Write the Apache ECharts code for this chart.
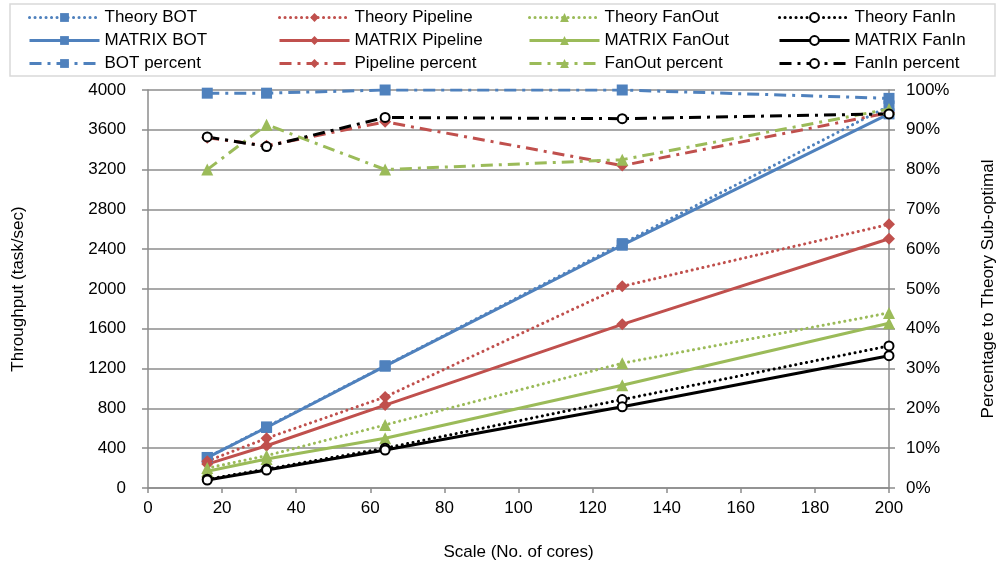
<!DOCTYPE html>
<html>
<head>
<meta charset="utf-8">
<script src="https://cdn.jsdelivr.net/npm/echarts@6/dist/echarts.min.js"></script>
<style>html,body{margin:0;padding:0;background:#fff}#c{width:1005px;height:566px}</style>
</head>
<body>
<div id="c"></div>
<script>
var cores = [16, 32, 64, 128, 200];
var xTicks = [0, 20, 40, 60, 80, 100, 120, 140, 160, 180, 200];
var theoryBOT = [307, 614, 1228, 2456, 3840];
var matrixBOT = [305, 608, 1225, 2440, 3760];
var theoryPipeline = [270, 500, 915, 2027, 2650];
var matrixPipeline = [240, 425, 833, 1645, 2505];
var theoryFanOut = [200, 325, 634, 1254, 1760];
var matrixFanOut = [168, 292, 500, 1032, 1655];
var theoryFanIn = [88, 190, 400, 889, 1428];
var matrixFanIn = [80, 180, 382, 816, 1330];
var botPercent = [99.2, 99.2, 100, 100, 97.9];
var pipelinePercent = [88, 86, 92, 81, 94.3];
var fanOutPercent = [80, 91.3, 80, 82.5, 95.2];
var fanInPercent = [88.2, 85.8, 93.1, 92.8, 94];

var FONT = 'Liberation Sans, Arial, sans-serif';
var BLUE = '#4F81BD', RED = '#C0504D', GREEN = '#9BBB59', BLACK = '#000000';
var DOT = [0.1, 5.4];
var DASHDOT = [12, 6, 3, 6];

function pts(vals) { return cores.map(function (c, i) { return [c, vals[i]]; }); }

function mk(name, vals, color, symbol, size, dash, yIdx, z) {
  var emptyC = symbol === 'emptyCircle';
  return {
    name: name, type: 'line', yAxisIndex: yIdx, data: pts(vals),
    symbol: symbol, symbolSize: size, z: z,
    lineStyle: { color: color, width: 3, type: dash, cap: dash === DOT ? 'round' : 'butt' },
    itemStyle: emptyC ? { color: color, borderWidth: 2 } : { color: color },
    emphasis: { disabled: true },
    animation: false
  };
}

var series = [
  mk('Theory BOT', theoryBOT, BLUE, 'rect', 11, DOT, 0, 2),
  mk('MATRIX BOT', matrixBOT, BLUE, 'rect', 11, 'solid', 0, 2),
  mk('BOT percent', botPercent, BLUE, 'rect', 11, DASHDOT, 1, 3),
  mk('Theory Pipeline', theoryPipeline, RED, 'diamond', 12, DOT, 0, 2),
  mk('MATRIX Pipeline', matrixPipeline, RED, 'diamond', 12, 'solid', 0, 2),
  mk('Pipeline percent', pipelinePercent, RED, 'diamond', 12, DASHDOT, 1, 3),
  mk('Theory FanOut', theoryFanOut, GREEN, 'triangle', 12, DOT, 0, 2),
  mk('MATRIX FanOut', matrixFanOut, GREEN, 'triangle', 12, 'solid', 0, 2),
  mk('FanOut percent', fanOutPercent, GREEN, 'triangle', 12, DASHDOT, 1, 3),
  mk('Theory FanIn', theoryFanIn, BLACK, 'emptyCircle', 9, DOT, 0, 2),
  mk('MATRIX FanIn', matrixFanIn, BLACK, 'emptyCircle', 9, 'solid', 0, 2),
  mk('FanIn percent', fanInPercent, BLACK, 'emptyCircle', 9, DASHDOT, 1, 3)
];

function leg(names, left) {
  return {
    data: names, orient: 'vertical', left: left, top: 9, padding: 0,
    itemWidth: 70, itemHeight: 11, itemGap: 6,
    lineStyle: { width: 3 },
    textStyle: { fontFamily: FONT, fontSize: 17, color: '#000' },
    selectedMode: false
  };
}

var axisLineStyle = { color: '#8c8c8c', width: 1.5 };
var chart = echarts.init(document.getElementById('c'), null, { renderer: 'canvas' });
chart.setOption({
  backgroundColor: '#ffffff',
  animation: false,
  textStyle: { fontFamily: FONT },
  graphic: [{
    type: 'rect', shape: { x: 10, y: 4, width: 985, height: 72 },
    style: { fill: '#ffffff', stroke: '#d9d9d9', lineWidth: 1.5 }, z: -10
  }],
  legend: [
    leg(['Theory BOT', 'MATRIX BOT', 'BOT percent'], 28),
    leg(['Theory Pipeline', 'MATRIX Pipeline', 'Pipeline percent'], 278),
    leg(['Theory FanOut', 'MATRIX FanOut', 'FanOut percent'], 528),
    leg(['Theory FanIn', 'MATRIX FanIn', 'FanIn percent'], 778)
  ],
  grid: { left: 148, right: 110, top: 90, bottom: 74 },
  xAxis: {
    type: 'value', min: xTicks[0], max: xTicks[xTicks.length - 1], interval: 20,
    name: 'Scale (No. of cores)', nameLocation: 'middle', nameGap: 56,
    nameTextStyle: { fontSize: 17, color: '#000', fontFamily: FONT },
    axisLine: { show: true, lineStyle: axisLineStyle },
    axisTick: { show: true, length: 5, lineStyle: axisLineStyle },
    axisLabel: { fontSize: 17, color: '#000', margin: 12, fontFamily: FONT },
    splitLine: { show: false }
  },
  yAxis: [{
    type: 'value', min: 0, max: 4000, interval: 400, position: 'left',
    name: 'Throughput (task/sec)', nameLocation: 'middle', nameGap: 121, nameRotate: 90,
    nameTextStyle: { fontSize: 17, color: '#000', fontFamily: FONT },
    axisLine: { show: true, lineStyle: axisLineStyle },
    axisTick: { show: true, length: 6, lineStyle: axisLineStyle },
    axisLabel: { fontSize: 17, color: '#000', margin: 22, fontFamily: FONT,
      formatter: function (v) { return String(v); } },
    splitLine: { show: true, lineStyle: { color: '#8c8c8c', width: 1.5 } }
  }, {
    type: 'value', min: 0, max: 100, interval: 10, position: 'right',
    name: 'Percentage to Theory Sub-optimal', nameLocation: 'middle', nameGap: 91, nameRotate: 90,
    nameTextStyle: { fontSize: 17, color: '#000', fontFamily: FONT },
    axisLine: { show: true, lineStyle: axisLineStyle },
    axisTick: { show: true, length: 6, lineStyle: axisLineStyle },
    axisLabel: { fontSize: 17, color: '#000', margin: 17, fontFamily: FONT, formatter: '{value}%' },
    splitLine: { show: false }
  }],
  series: series
});
</script>
</body>
</html>
